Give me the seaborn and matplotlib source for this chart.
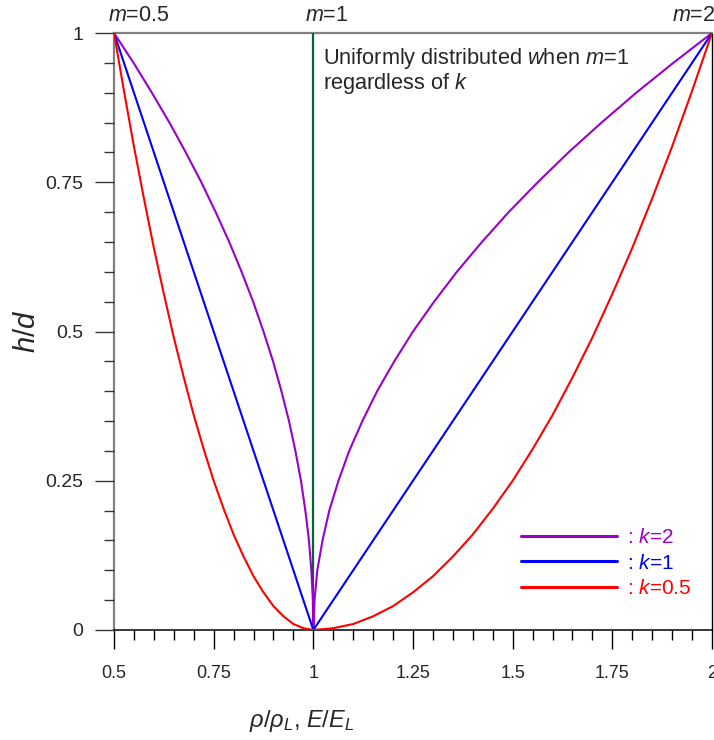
import matplotlib
matplotlib.use("Agg")
import matplotlib.pyplot as plt
import seaborn as sns
import pandas as pd

# Normalised property ratio (rho/rho_L, E/E_L) versus relative height h/d,
# one V-shaped profile per gradient exponent k (m = 0.5 on the left, m = 2 on the right)
x_k2 = [0.500, 0.549, 0.595, 0.639, 0.680, 0.719, 0.755, 0.789, 0.820, 0.849,
        0.875, 0.899, 0.920, 0.939, 0.955, 0.969, 0.980, 0.989, 0.995, 0.999,
        1.000,
        1.003, 1.010, 1.023, 1.040, 1.063, 1.090, 1.123, 1.160, 1.203, 1.250,
        1.303, 1.360, 1.423, 1.490, 1.563, 1.640, 1.723, 1.810, 1.903, 2.000]
y_k2 = [1.00, 0.95, 0.90, 0.85, 0.80, 0.75, 0.70, 0.65, 0.60, 0.55,
        0.50, 0.45, 0.40, 0.35, 0.30, 0.25, 0.20, 0.15, 0.10, 0.05,
        0.00,
        0.05, 0.10, 0.15, 0.20, 0.25, 0.30, 0.35, 0.40, 0.45, 0.50,
        0.55, 0.60, 0.65, 0.70, 0.75, 0.80, 0.85, 0.90, 0.95, 1.00]

x_k1 = [0.500, 0.550, 0.600, 0.650, 0.700, 0.750, 0.800, 0.850, 0.900, 0.950,
        1.000,
        1.100, 1.200, 1.300, 1.400, 1.500, 1.600, 1.700, 1.800, 1.900, 2.000]
y_k1 = [1.00, 0.90, 0.80, 0.70, 0.60, 0.50, 0.40, 0.30, 0.20, 0.10,
        0.00,
        0.10, 0.20, 0.30, 0.40, 0.50, 0.60, 0.70, 0.80, 0.90, 1.00]

x_k05 = [0.500, 0.525, 0.550, 0.575, 0.600, 0.625, 0.650, 0.675, 0.700, 0.725,
         0.750, 0.775, 0.800, 0.825, 0.850, 0.875, 0.900, 0.925, 0.950, 0.975,
         1.000,
         1.050, 1.100, 1.150, 1.200, 1.250, 1.300, 1.350, 1.400, 1.450, 1.500,
         1.550, 1.600, 1.650, 1.700, 1.750, 1.800, 1.850, 1.900, 1.950, 2.000]
y_k05 = [1.000, 0.903, 0.810, 0.723, 0.640, 0.563, 0.490, 0.423, 0.360, 0.303,
         0.250, 0.203, 0.160, 0.123, 0.090, 0.063, 0.040, 0.023, 0.010, 0.003,
         0.000,
         0.003, 0.010, 0.023, 0.040, 0.063, 0.090, 0.123, 0.160, 0.203, 0.250,
         0.303, 0.360, 0.423, 0.490, 0.563, 0.640, 0.723, 0.810, 0.903, 1.000]

k_labels = [": $k$=2", ": $k$=1", ": $k$=0.5"]
k_colors = ["#9900CC", "#0000FF", "#FF0000"]

m_uniform = 1.0
uniform_span = [0.0, 1.0]
m_values = [0.5, 1.0, 2.0]
m_labels = ["$m$=0.5", "$m$=1", "$m$=2"]

x_ticks = [0.5, 0.75, 1.0, 1.25, 1.5, 1.75, 2.0]
x_ticklabels = ["0.5", "0.75", "1", "1.25", "1.5", "1.75", "2"]
y_ticks = [0.0, 0.25, 0.5, 0.75, 1.0]
y_ticklabels = ["0", "0.25", "0.5", "0.75", "1"]

df = pd.concat([
    pd.DataFrame({"x": x_k2, "h_d": y_k2, "k": k_labels[0]}),
    pd.DataFrame({"x": x_k1, "h_d": y_k1, "k": k_labels[1]}),
    pd.DataFrame({"x": x_k05, "h_d": y_k05, "k": k_labels[2]}),
], ignore_index=True)

sns.set_style("ticks")
plt.rcParams["font.family"] = ["Liberation Sans", "DejaVu Sans"]
plt.rcParams["mathtext.fontset"] = "custom"
plt.rcParams["mathtext.rm"] = "Liberation Sans"
plt.rcParams["mathtext.it"] = "Liberation Sans:italic"
plt.rcParams["mathtext.bf"] = "Liberation Sans:bold"

W, H = 714, 740
fig = plt.figure(figsize=(W / 100, H / 100), dpi=100)
ax = fig.add_axes([114 / W, 1 - 630 / H, 598 / W, 597 / H])

sns.lineplot(data=df, x="x", y="h_d", hue="k", palette=dict(zip(k_labels, k_colors)),
             hue_order=k_labels, estimator=None, sort=True, linewidth=1.5, ax=ax)

# vertical line for the uniform case m = 1
ax.plot([m_uniform, m_uniform], uniform_span, color="#006633", lw=1.6, zorder=1)

ax.set_xlim(0.5, 2.0)
ax.set_ylim(0.0, 1.0)
ax.set_xticks(x_ticks)
ax.set_xticklabels(x_ticklabels, fontsize=13)
ax.set_yticks(y_ticks)
ax.set_yticklabels(y_ticklabels, fontsize=14)
ax.set_xticks([v / 100 for v in range(50, 201, 5)], minor=True)
ax.set_yticks([v / 100 for v in range(0, 101, 5)], minor=True)
ax.tick_params(axis="x", which="major", direction="out", length=14, width=1.0,
               pad=11, color="black")
ax.tick_params(axis="x", which="minor", direction="out", length=7, width=1.0,
               color="black")
ax.tick_params(axis="y", which="major", direction="out", length=14, width=1.0,
               pad=8, color="#333333")
ax.tick_params(axis="y", which="minor", direction="out", length=7, width=1.0,
               color="#333333")

for side in ["top", "left"]:
    ax.spines[side].set_color("#808080")
    ax.spines[side].set_linewidth(1.6)
ax.spines["bottom"].set_color("black")
ax.spines["bottom"].set_linewidth(1.1)
ax.spines["right"].set_color("black")
ax.spines["right"].set_linewidth(1.0)
for s in ax.spines.values():
    s.set_zorder(0.5)

ax.set_xlabel(r"$\rho/\rho_L$, $E/E_L$", fontsize=17)
ax.xaxis.set_label_coords(0.314, -0.13)
ax.set_ylabel("$h/d$", fontsize=21)
ax.yaxis.set_label_coords(-0.122, 0.5)

# m labels along the top edge (the last one is pulled inward to stay on the page)
m_offsets = [-4.5, -6.0, -29.0]
for mv, ml, dx in zip(m_values, m_labels, m_offsets):
    ax.annotate(ml, xy=(mv, 1.0), xycoords=("data", "axes fraction"),
                xytext=(dx, 8.5), textcoords="offset points",
                ha="left", va="baseline", fontsize=15.5, annotation_clip=False)

ax.text(1.025, 0.978, "Uniformly distributed $w$hen $m$=1\nregardless of $k$",
        fontsize=15.7, ha="left", va="top", linespacing=0.97)

handles, labels = ax.get_legend_handles_labels()
leg = ax.legend(handles, labels, loc="upper left", frameon=False, fontsize=15,
                bbox_to_anchor=(521 / W, 1 - 528 / H), bbox_transform=fig.transFigure,
                handlelength=4.6, handletextpad=0.5, labelspacing=0.32,
                borderpad=0, borderaxespad=0, labelcolor="linecolor")
for line in leg.get_lines():
    line.set_linewidth(2.2)

fig.savefig("out.png", dpi=100)
